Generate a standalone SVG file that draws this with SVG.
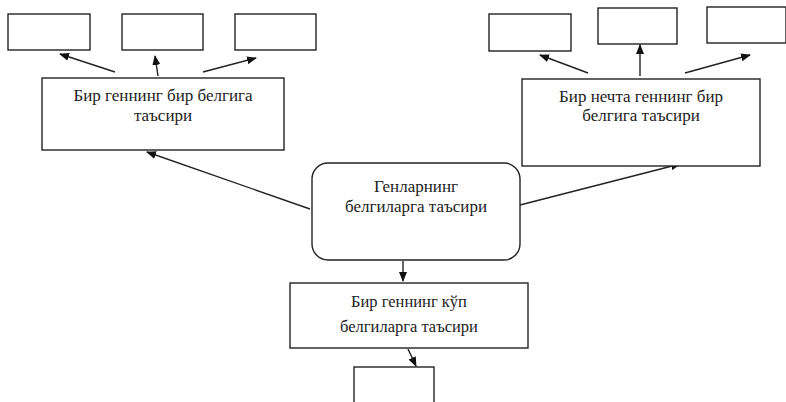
<svg xmlns="http://www.w3.org/2000/svg" width="786" height="402" viewBox="0 0 786 402">
<defs>
<marker id="ah" markerWidth="10" markerHeight="8" refX="9" refY="4" orient="auto" markerUnits="userSpaceOnUse">
<path d="M0,0 L10,4 L0,8 z" fill="#111"/>
</marker>
<style>
.box{fill:#fff;stroke:#222;stroke-width:1.4}
.t{font-family:"Liberation Serif","Times New Roman",serif;font-size:17px;fill:#222;text-anchor:middle}
.s{font-size:16.5px}
.c{stroke:#222;stroke-width:1.4;fill:none;marker-end:url(#ah)}
</style>
</defs>
<rect width="786" height="402" fill="#fff"/>
<g id="connectors">
<line class="c" x1="115" y1="72" x2="60" y2="54"/>
<line class="c" x1="158" y1="76" x2="155" y2="56"/>
<line class="c" x1="203" y1="72" x2="256" y2="58"/>
<line class="c" x1="588" y1="73" x2="540" y2="55"/>
<line class="c" x1="640" y1="76" x2="640" y2="45"/>
<line class="c" x1="685" y1="73" x2="750" y2="55"/>
<line class="c" x1="310" y1="209" x2="147" y2="152"/>
<line class="c" x1="520" y1="205" x2="680" y2="164"/>
<line class="c" x1="403" y1="261" x2="403" y2="281"/>
<line class="c" x1="408" y1="349" x2="416" y2="366"/>
</g>
<g id="leaf1"><rect class="box" x="8" y="14" width="82" height="36"/></g>
<g id="leaf2"><rect class="box" x="122" y="14" width="81" height="36"/></g>
<g id="leaf3"><rect class="box" x="235" y="14" width="81" height="36"/></g>
<g id="leaf4"><rect class="box" x="489" y="14" width="82" height="37"/></g>
<g id="leaf5"><rect class="box" x="598" y="8" width="79" height="36"/></g>
<g id="leaf6"><rect class="box" x="707" y="7" width="79" height="36"/></g>
<g id="leaf7"><rect class="box" x="354" y="367" width="80" height="40"/></g>
<g id="one-gene-one-trait">
<rect class="box" x="42" y="78" width="242" height="72"/>
<text class="t" x="163" y="101">Бир геннинг бир белгига</text>
<text class="t" x="163" y="121">таъсири</text>
</g>
<g id="several-genes-one-trait">
<rect class="box" x="522" y="79" width="238" height="87"/>
<text class="t" x="641" y="102">Бир нечта геннинг бир</text>
<text class="t" x="641" y="121">белгига таъсири</text>
</g>
<g id="genes-effect">
<rect class="box" x="312" y="163" width="208" height="97" rx="16" ry="16"/>
<text class="t" x="416" y="192">Генларнинг</text>
<text class="t" x="416" y="212">белгиларга таъсири</text>
</g>
<g id="one-gene-many-traits">
<rect class="box" x="290" y="283" width="238" height="65"/>
<text class="t s" x="409" y="307">Бир геннинг кўп</text>
<text class="t s" x="409" y="332">белгиларга таъсири</text>
</g>
</svg>
